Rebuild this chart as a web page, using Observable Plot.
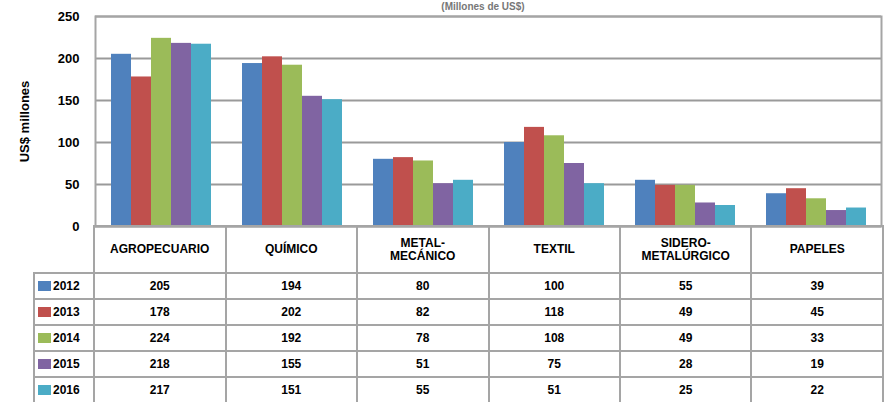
<!DOCTYPE html>
<html><head><meta charset="utf-8">
<script src="https://cdn.jsdelivr.net/npm/d3@7"></script>
<script src="https://cdn.jsdelivr.net/npm/@observablehq/plot@0.6"></script>
<style>
body{margin:0;background:#fff;font-family:"Liberation Sans",Arial,sans-serif;}
#wrap{position:relative;width:884px;height:402px;overflow:hidden;}
#chart{position:absolute;left:0;top:0;}
#title{position:absolute;top:1px;left:383px;width:200px;text-align:center;color:#777;font-weight:bold;font-size:10px;line-height:11px;}
table{position:absolute;left:33px;top:225px;border-collapse:collapse;table-layout:fixed;}
td{border:2px solid #a5a5a5;text-align:center;font-weight:bold;font-size:12px;padding:0;color:#000;line-height:13px;}
tr.head td{height:45px;}
tr.row td{height:24px;}
td.corner{border-top:none;border-left:none;}
td.leg{text-align:left;padding-left:3px;white-space:nowrap;}
.sw{display:inline-block;width:13px;height:10px;margin-right:2px;vertical-align:-1px;}
</style></head>
<body>
<div id="wrap">
  <div id="chart"></div>
  <div id="title"></div>
  <table id="tbl"></table>
</div>
<script>
const categories = ["AGROPECUARIO", "QUÍMICO", "METAL-MECÁNICO", "TEXTIL", "SIDERO-METALÚRGICO", "PAPELES"];
const headerLabels = ["AGROPECUARIO", "QUÍMICO", "METAL-<br>MECÁNICO", "TEXTIL", "SIDERO-<br>METALÚRGICO", "PAPELES"];
const years = ["2012", "2013", "2014", "2015", "2016"];
const v2012 = [205, 194, 80, 100, 55, 39];
const v2013 = [178, 202, 82, 118, 49, 45];
const v2014 = [224, 192, 78, 108, 49, 33];
const v2015 = [218, 155, 51, 75, 28, 19];
const v2016 = [217, 151, 55, 51, 25, 22];
const yTicks = [0, 50, 100, 150, 200, 250];
const colors = ["#4F81BD", "#C0504D", "#9BBB59", "#8064A2", "#4BACC6"];
const titleText = "(Millones de US$)";
const yLabel = "US$ millones";

const series = [v2012, v2013, v2014, v2015, v2016];
const data = [];
categories.forEach((c, i) => years.forEach((y, j) => data.push({cat: c, year: y, value: series[j][i]})));

document.getElementById("title").textContent = titleText;

const chart = Plot.plot({
  width: 884, height: 240,
  marginLeft: 93, marginRight: 1, marginTop: 16, marginBottom: 14,
  style: {fontFamily: "'Liberation Sans', Arial, sans-serif", background: "transparent"},
  fx: {domain: categories, padding: 0, axis: null, label: null},
  x: {domain: years, paddingInner: 0, paddingOuter: 0.65, axis: null, label: null},
  y: {domain: [0, 250], label: null},
  color: {domain: years, range: colors},
  marks: [
    Plot.gridY(yTicks, {stroke: "#9a9a9a", strokeOpacity: 1, strokeWidth: 2}),
    Plot.barY(data, {fx: "cat", x: "year", y: "value", fill: "year"}),
    Plot.frame({facet: "super", stroke: "#a5a5a5", strokeWidth: 2}),
    Plot.axisY(yTicks, {tickSize: 0, tickPadding: 16, fontWeight: "bold", fontSize: 13, label: yLabel, labelAnchor: "center", labelOffset: 76, labelArrow: "none"})
  ]
});
document.getElementById("chart").appendChild(chart);

const tbl = document.getElementById("tbl");
let html = '<colgroup><col style="width:60px">' + categories.map(() => '<col style="width:131.67px">').join("") + '</colgroup>';
html += '<tr class="head"><td class="corner"></td>' + headerLabels.map(h => `<td>${h}</td>`).join("") + '</tr>';
years.forEach((y, j) => {
  html += `<tr class="row"><td class="leg"><span class="sw" style="background:${colors[j]}"></span>${y}</td>` +
    series[j].map(v => `<td>${v}</td>`).join("") + '</tr>';
});
tbl.innerHTML = html;
</script>
</body></html>
